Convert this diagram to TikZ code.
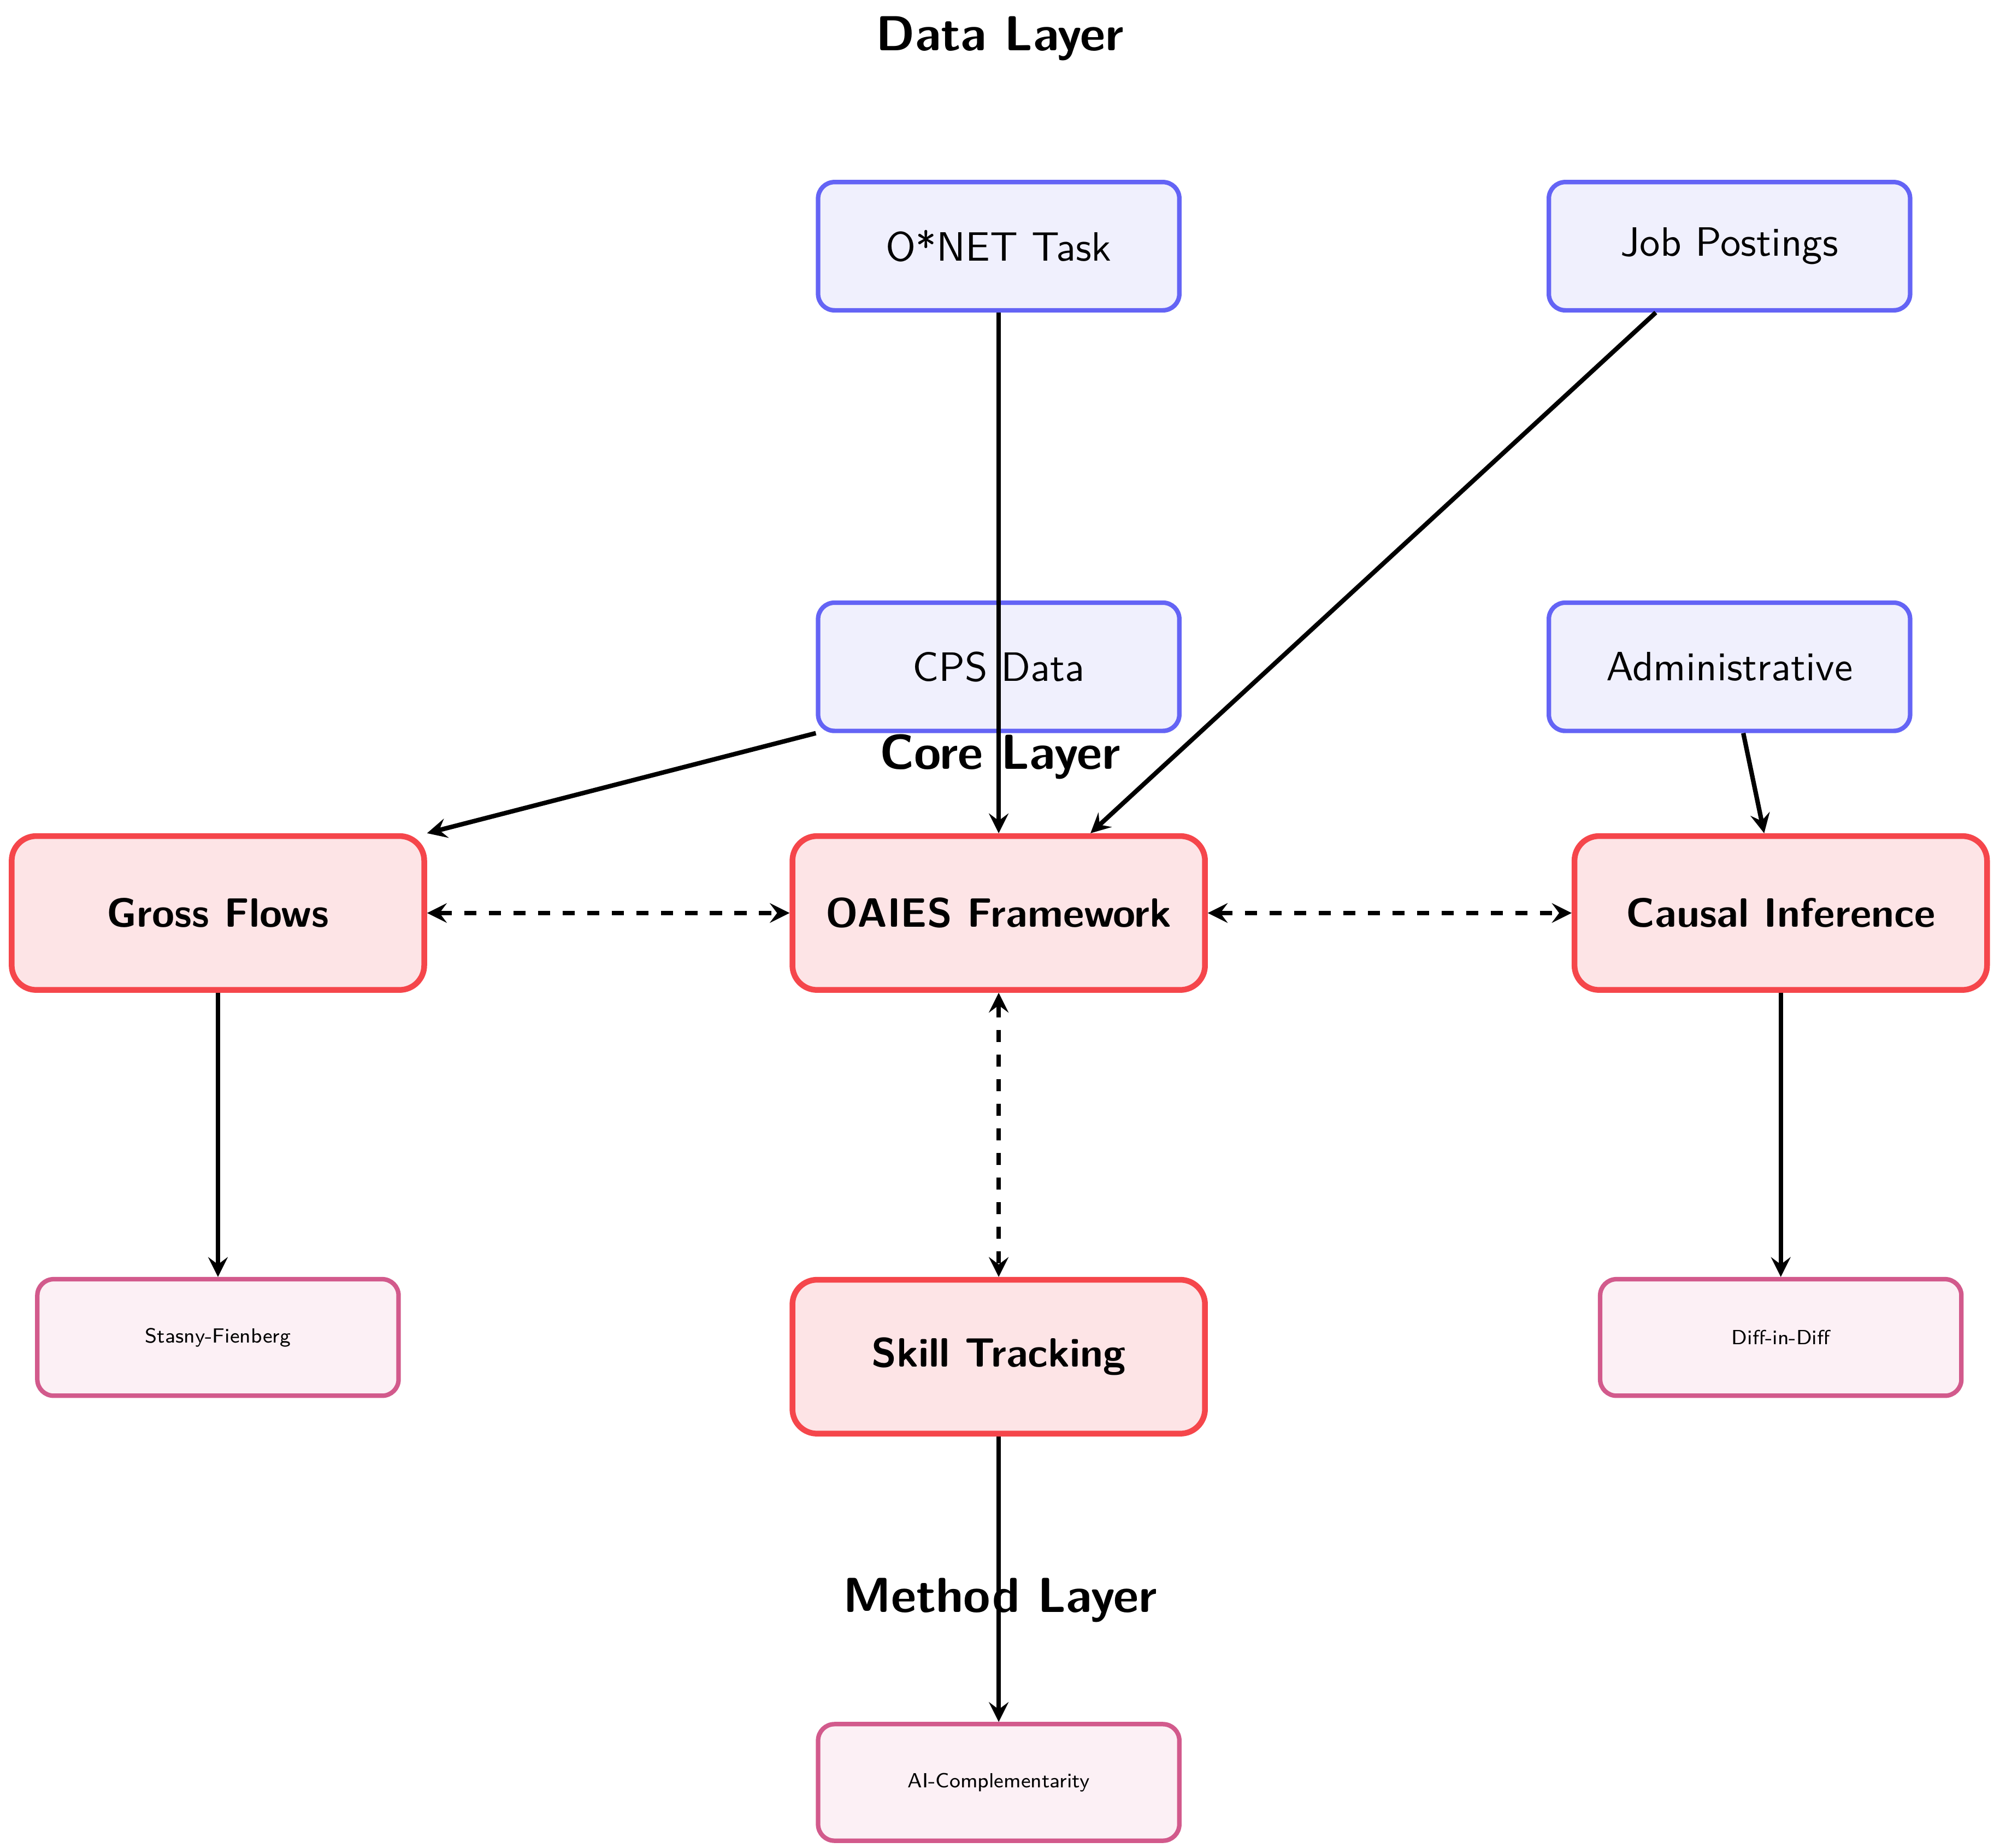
\documentclass[tikz,border=0pt]{standalone}
\usetikzlibrary{arrows,positioning}
\definecolor{datadraw}{RGB}{100,100,245}
\definecolor{datafill}{RGB}{240,240,253}
\definecolor{coredraw}{RGB}{245,70,75}
\definecolor{corefill}{RGB}{253,228,230}
\definecolor{methdraw}{RGB}{210,90,140}
\definecolor{methfill}{RGB}{252,240,245}
\begin{document}
\begin{tikzpicture}[
    x=0.011cm, y=-0.011cm,
    font=\sffamily,
    data/.style={rectangle, rounded corners=4pt, draw=datadraw, line width=1.1pt, fill=datafill, minimum width=3.1cm, minimum height=1.1cm, font=\sffamily},
    core/.style={rectangle, rounded corners=6pt, draw=coredraw, line width=1.4pt, fill=corefill, minimum width=3.54cm, minimum height=1.32cm, font=\sffamily\bfseries},
    method/.style={rectangle, rounded corners=4pt, draw=methdraw, line width=1.1pt, fill=methfill, minimum width=3.1cm, minimum height=1cm, font=\sffamily\tiny},
    layer/.style={font=\sffamily\large\bfseries},
    arrow/.style={->, >=stealth, line width=1.1pt},
    link/.style={<->, >=stealth, line width=1.1pt, dashed}
]
\useasboundingbox (0,0) rectangle (1560,1441);

% Layer titles
\node[layer] (tdata) at (780,30) {Data Layer};
\node[layer] (tcore) at (780,590) {Core Layer};
\node[layer] (tmeth) at (780,1248) {Method Layer};

% Data
\node[data] (onet) at (779,192) {O*NET Task};
\node[data] (jobs) at (1349,192) {Job Postings};
\node[data] (cps) at (779,520) {CPS Data};
\node[data] (admin) at (1349,520) {Administrative};

% Core
\node[core] (gross) at (170,712) {Gross Flows};
\node[core] (oaies) at (779,712) {OAIES Framework};
\node[core] (causal) at (1389,712) {Causal Inference};
\node[core] (skill) at (779,1058) {Skill Tracking};

% Methods
\node[method] (stasny) at (170,1043) {Stasny-Fienberg};
\node[method] (did) at (1389,1043) {Diff-in-Diff};
\node[method] (aicomp) at (779,1390) {AI-Complementarity};

% Arrows
\draw[arrow] (onet) -- (oaies);
\draw[arrow] (jobs.222) -- (oaies.41);
\draw[arrow] (cps.south west) -- (gross.north east);
\draw[arrow] (admin) -- (causal);
\draw[link] (gross) -- (oaies);
\draw[link] (oaies) -- (causal);
\draw[link] (oaies) -- (skill);
\draw[arrow] (gross) -- (stasny);
\draw[arrow] (causal) -- (did);
\draw[arrow] (skill) -- (aicomp);
\end{tikzpicture}
\end{document}
